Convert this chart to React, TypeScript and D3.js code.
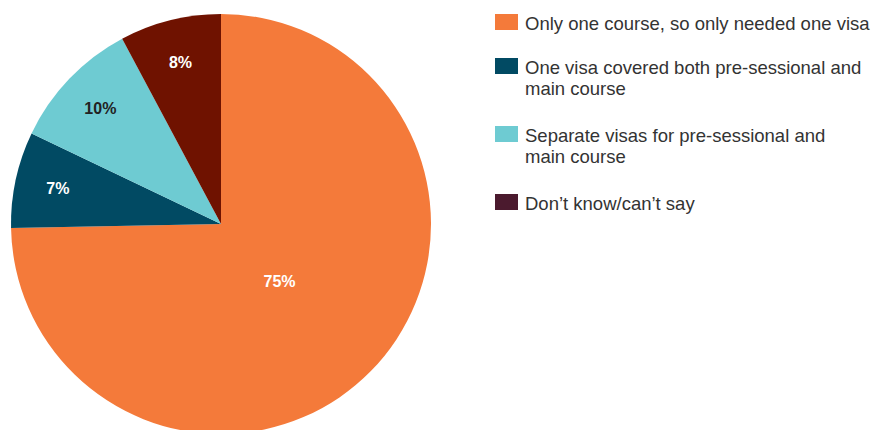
import React from "react";
import * as d3 from "d3";

const categories = [
  "Only one course, so only needed one visa",
  "One visa covered both pre-sessional and\nmain course",
  "Separate visas for pre-sessional and\nmain course",
  "Don\u2019t know/can\u2019t say",
];
const values = [74.7, 7.4, 10.1, 7.8];
const sliceColors = ["#f47a3a", "#014a63", "#6ecbd2", "#6f1200"];
const legendColors = ["#f47a3a", "#014a63", "#6ecbd2", "#4b1a2e"];
const labelColors = ["#ffffff", "#ffffff", "#222222", "#ffffff"];

const W = 877;
const H = 430;
const cx = 221;
const cy = 224;
const R = 210;

export default function App() {
  const pie = d3.pie<number>().sort(null).value((d) => d);
  const arcs = pie(values);
  const arc = d3.arc<d3.PieArcDatum<number>>().innerRadius(0).outerRadius(R);
  const fontFamily = "'Liberation Sans', Arial, Helvetica, sans-serif";

  const legendX = 495;
  const textX = 525;
  const lineH = 21;
  let y = 14;
  const legendItems = categories.map((c, i) => {
    const lines = c.split("\n");
    const top = y;
    y += 44 + (lines.length - 1) * 24;
    return { lines, top, i };
  });

  return (
    <svg
      width={W}
      height={H}
      style={{ position: "absolute", left: 0, top: 0, background: "#fff" }}
      fontFamily={fontFamily}
    >
      <g transform={`translate(${cx},${cy})`}>
        {arcs.map((a, i) => (
          <path key={i} d={arc(a) || ""} fill={sliceColors[i]} />
        ))}
        {arcs.map((a, i) => {
          const mid = (a.startAngle + a.endAngle) / 2;
          const r = a.data > 50 ? 82 : 167;
          const x = Math.sin(mid) * r;
          const yy = -Math.cos(mid) * r;
          return (
            <text
              key={"l" + i}
              x={x}
              y={yy}
              textAnchor="middle"
              dominantBaseline="central"
              fontSize={16}
              fontWeight="bold"
              fill={labelColors[i]}
            >
              {Math.round(a.data)}%
            </text>
          );
        })}
      </g>
      {legendItems.map(({ lines, top, i }) => (
        <g key={"lg" + i}>
          <rect x={legendX} y={top} width={23} height={16} fill={legendColors[i]} />
          {lines.map((ln, j) => (
            <text
              key={j}
              x={textX}
              y={top + 9 + j * lineH}
              dominantBaseline="central"
              fontSize={18.5}
              fill="#333333"
            >
              {ln}
            </text>
          ))}
        </g>
      ))}
    </svg>
  );
}
